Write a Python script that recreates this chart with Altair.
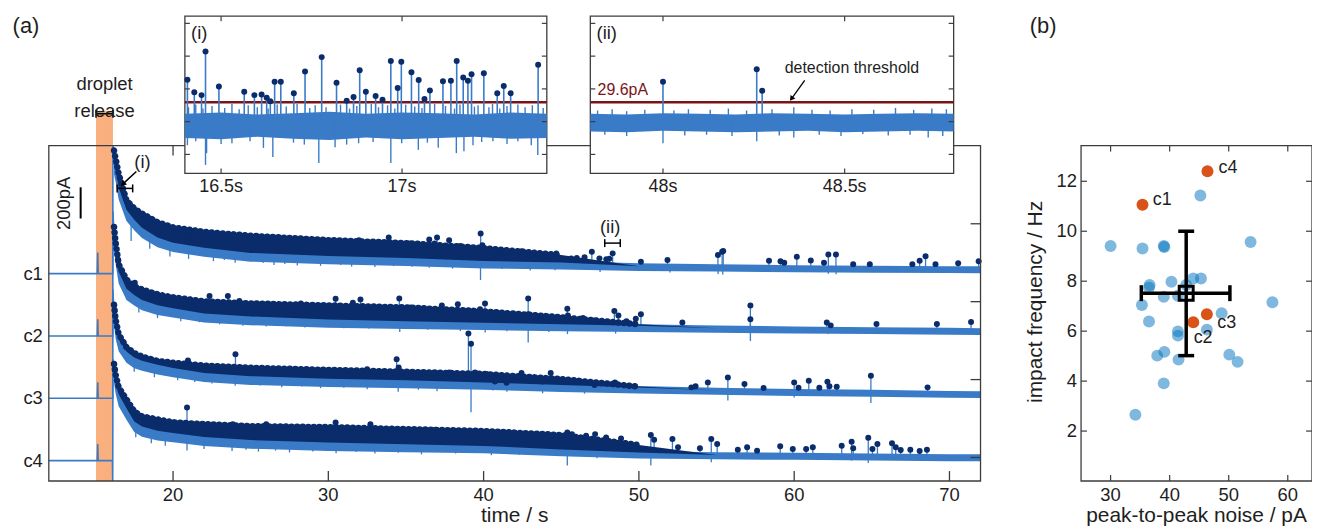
import altair as alt
import numpy as np
import pandas as pd

FONT = "Liberation Sans"
TRACE_BLUE = "#3A7BC8"
DOT_NAVY = "#0B2C6B"
RELEASE_ORANGE = "#F9B07E"
THRESH_RED = "#7A1417"
FRAME = "#3C3C3C"
INK = "#1E1E1E"
SCAT_BLUE = "#0072BD"
SCAT_ORANGE = "#D95319"

# ---------------- panel (a): main recordings (current in pA, per-trace offset) ----------------
MAIN_T_DOMAIN = [12, 72]
MAIN_V_DOMAIN = [-151, 2002]
TIME_GRID = [16.2, 16.3, 16.5, 17.0, 17.5, 18.0, 19.0, 20.0, 22.0, 25.0, 30.0, 35.0, 40.0, 45.0, 50.0, 55.0, 60.0, 65.0, 70.0, 72.0]
TRACES = ["c1", "c2", "c3", "c4"]
TRACE_OFFSET = [1180, 780, 380, -20]
LEVEL_C1 = [697, 652, 534, 393, 330, 279, 217, 185, 153, 121, 102, 89, 70, 61, 47, 42, 36, 32, 30, 29]
LEVEL_C2 = [640, 523, 394, 285, 247, 215, 183, 164, 132, 113, 94, 84, 75, 65, 56, 49, 43, 38, 34, 32]
LEVEL_C3 = [530, 443, 360, 283, 245, 226, 200, 181, 149, 130, 114, 104, 91, 75, 60, 50, 42, 36, 29, 27]
LEVEL_C4 = [560, 490, 407, 318, 235, 203, 177, 164, 139, 120, 104, 94, 84, 62, 43, 36, 32, 27, 22, 22]
DENSE_C1 = [790, 740, 640, 470, 418, 386, 330, 297, 268, 243, 215, 196, 164, 119, 47, 42, 36, 32, 30, 29]
DENSE_C2 = [700, 600, 460, 362, 318, 299, 267, 248, 222, 209, 196, 183, 158, 120, 75, 49, 43, 38, 34, 32]
DENSE_C3 = [600, 507, 411, 328, 290, 268, 240, 228, 210, 196, 182, 170, 156, 123, 75, 50, 42, 36, 29, 27]
DENSE_C4 = [620, 553, 470, 393, 316, 284, 265, 246, 234, 221, 215, 202, 190, 164, 100, 36, 32, 27, 22, 22]
NOISE_UP = [40, 40, 38, 35, 33, 31, 29, 27, 25, 24, 23, 22, 21, 20, 19, 18, 18, 18, 18, 18]
NOISE_DOWN = [60, 60, 58, 55, 52, 50, 48, 46, 45, 44, 42, 40, 37, 34, 30, 28, 27, 26, 26, 26]

RELEASE_START, RELEASE_END = 15.04, 16.13
PRE_SPIKE_T = 15.15
PRE_SPIKE_H = [135, 107, 102, 107]
JUMP_PEAK = [822, 800, 700, 650]
JUMP_LOW = [0, 0, 0, -131]

SPIKES_C1 = [(20.75, 236), (21.18, 232), (22.1, 215), (22.9, 215), (24.66, 242), (25.3, 232), (28.5, 215),
             (29.08, 215), (31.97, 215), (33.89, 232), (34.47, 183), (35.22, 194), (36.5, 219), (36.84, 194),
             (37.0, 232), (37.78, 215), (38.5, 178), (39.81, 257), (39.92, 183), (40.5, 150), (41.0, 135),
             (41.43, 140), (42.44, 144), (43.0, 120), (43.66, 119), (44.0, 115), (44.68, 130), (45.64, 98),
             (46.0, 100), (46.5, 105), (46.97, 140), (47.46, 98), (47.9, 92), (48.1, 95), (48.31, 130),
             (50.13, 76), (51.84, 87), (55.09, 119), (55.36, 140), (55.43, 146), (58.38, 82), (59.12, 79),
             (59.36, 70), (60.17, 108), (61.07, 85), (61.92, 70), (62.2, 123), (62.69, 123), (63.8, 61),
             (64.87, 61), (67.61, 61), (68.08, 82), (68.46, 112), (69.1, 61), (70.56, 66), (71.88, 79)]
SPIKES_C2 = [(17.54, 341), (22.35, 256), (23.53, 256), (24.27, 224), (28.23, 209), (30.47, 239), (31.58, 213),
             (32.07, 234), (34.57, 241), (35.28, 182), (36.03, 171), (37.31, 196), (38.34, 203), (39.77, 171),
             (40.09, 209), (40.95, 130), (41.6, 120), (42.2, 135), (42.87, 241), (42.87, 139), (43.7, 100),
             (45.0, 110), (45.39, 175), (45.43, 132), (46.4, 115), (47.1, 100), (47.8, 90), (48.42, 160),
             (48.68, 132), (49.2, 95), (49.8, 110), (50.13, 139), (52.8, 86), (57.18, 196), (57.18, 107),
             (62.1, 86), (62.35, 68), (65.3, 77), (69.19, 77), (71.39, 90)]
SPIKES_C3 = [(20.96, 242), (24.02, 283), (32.5, 187), (34.4, 251), (34.53, 198), (37.16, 162), (37.78, 166),
             (39.02, 416), (39.19, 350), (39.45, 166), (39.7, 156), (40.19, 156), (40.73, 108), (41.48, 100),
             (42.44, 162), (43.78, 108), (44.32, 162), (45.11, 108), (46.07, 108), (47.14, 85), (48.46, 102),
             (53.38, 70), (53.65, 77), (54.44, 102), (55.73, 134), (56.8, 91), (58.03, 66), (60.0, 102),
             (60.28, 68), (60.94, 112), (61.62, 68), (62.14, 106), (62.27, 77), (62.74, 74), (64.94, 144),
             (68.59, 70)]
SPIKES_C4 = [(20.9, 341), (23.85, 234), (26.0, 234), (27.48, 202), (30.47, 245), (32.71, 234), (34.64, 181),
             (36.41, 192), (36.88, 198), (37.35, 181), (39.87, 170), (40.88, 170), (41.37, 160), (43.14, 156),
             (45.39, 181), (45.69, 170), (46.6, 160), (47.18, 170), (47.89, 149), (48.85, 142), (50.77, 164),
             (50.98, 134), (52.16, 138), (52.52, 85), (53.93, 79), (54.66, 138), (55.04, 106), (56.37, 70),
             (56.97, 85), (57.61, 64), (59.1, 92), (59.91, 75), (60.77, 75), (61.2, 85), (63.06, 96),
             (63.7, 121), (63.8, 79), (64.77, 147), (65.04, 75), (65.36, 106), (66.3, 111), (66.54, 85),
             (66.86, 68), (67.48, 70), (68.08, 62), (68.55, 70)]
DIPS_C1 = [(17.3, 210), (18.5, 160), (19.8, 110), (21.0, 95), (22.6, 80), (23.3, 88), (24.0, 70), (25.8, 68),
           (26.5, 55), (27.2, 62), (28.0, 52), (29.5, 50), (30.8, 55), (31.5, 45), (33.0, 42), (34.2, 48),
           (35.4, 44), (36.5, 38), (38.0, 32), (39.8, -41), (41.2, 30), (43.0, 20), (44.6, 22), (47.5, 10),
           (52.0, 8), (55.1, -2), (55.4, -6), (62.2, 0), (62.7, -4)]
DIPS_C2 = [(17.8, 150), (19.0, 115), (20.5, 95), (21.7, 88), (23.0, 75), (24.5, 65), (26.0, 60), (27.3, 62),
           (28.5, 55), (29.8, 58), (31.0, 50), (32.6, 48), (34.6, 25), (36.4, 40), (38.5, 32), (40.1, 22),
           (41.5, 30), (42.87, -42), (44.2, 25), (45.4, 12), (48.5, 15), (57.18, -32), (62.2, 12)]
DIPS_C3 = [(17.5, 170), (18.8, 135), (20.3, 115), (21.4, 105), (22.5, 95), (24.0, 80), (25.6, 82), (27.0, 70),
           (28.3, 75), (29.5, 65), (31.0, 68), (32.5, 58), (34.5, 42), (35.8, 55), (37.0, 45), (39.19, -89),
           (40.6, 50), (41.5, 42), (43.8, 32), (46.5, 30), (55.73, -15), (60.0, 5), (64.94, -30)]
DIPS_C4 = [(17.6, 150), (18.6, 112), (19.5, 95), (20.9, 65), (22.0, 75), (23.8, 62), (24.7, 70), (25.5, 58),
           (26.6, 64), (27.5, 52), (29.0, 58), (30.5, 48), (31.8, 55), (33.0, 45), (34.5, 50), (36.0, 40),
           (38.2, 45), (40.5, 35), (42.3, 38), (45.39, -32), (47.3, 15), (50.77, -32), (54.66, -10), (63.7, 0),
           (64.77, -15)]
MAIN_X_TICKS = [20, 30, 40, 50, 60, 70]
MAIN_RIGHT_TICKS = [0, 500, 1000, 1500]
MAIN_X_TITLE = "time / s"

# annotations of panel (a) (in main-panel data units)
SCALE_BAR_T = 14.05
SCALE_BAR_TOP = 1734
SCALE_BAR_PA = 200
BRACKET_I = [16.4, 17.4, 1727]
BRACKET_II = [47.8, 48.8, 1376]
BRACKET_RELEASE = [RELEASE_START, RELEASE_END, 2206]
RELEASE_TOP = 2225
ARROW_I = [17.64, 1836, 16.81, 1759]

# ---------------- insets (i) and (ii) ----------------
INSET_V_DOMAIN = [-79, 161]
INSET_V_TICKS = [-50, 0, 50, 100, 150]
THRESHOLD = 29.6
INSET1_DOMAIN = [16.4, 17.4]
INSET1_TICKS = [16.5, 17.0]
I1_BAND_T = [16.4, 16.5, 16.6, 16.7, 16.8, 16.9, 17.0, 17.1, 17.2, 17.3, 17.4]
I1_BAND_LO = [-25, -27, -23, -26, -28, -24, -27, -25, -23, -26, -25]
I1_BAND_HI = [12, 14, 11, 13, 15, 12, 14, 13, 11, 14, 12]
I1_EVENTS = [(16.407, 64), (16.426, 45), (16.446, 40.5), (16.457, 107), (16.494, 53.5), (16.564, 45.5),
             (16.592, 40.5), (16.612, 41.5), (16.626, 36.5), (16.636, 31), (16.648, 61), (16.665, 61),
             (16.701, 43.5), (16.732, 76.5), (16.778, 98.5), (16.819, 59.5), (16.847, 32), (16.866, 37.5),
             (16.883, 78.5), (16.900, 45.5), (16.927, 39), (16.946, 33.5), (16.969, 92.5), (16.988, 51.5),
             (16.998, 91.5), (17.026, 75.5), (17.046, 63.5), (17.062, 34.5), (17.077, 47.5), (17.113, 61.5),
             (17.135, 62.5), (17.151, 92.5), (17.169, 67.5), (17.182, 62.5), (17.192, 72.5), (17.226, 74),
             (17.263, 43.5), (17.281, 54.5), (17.300, 43.5), (17.376, 87)]
I1_NOISE_UP = [(16.41, 22), (16.43, 26), (16.45, 20), (16.475, 24), (16.51, 21), (16.53, 27), (16.55, 19),
               (16.575, 25), (16.6, 22), (16.63, 20), (16.655, 26), (16.68, 23), (16.71, 27), (16.745, 21),
               (16.76, 25), (16.79, 22), (16.83, 26), (16.855, 20), (16.875, 24), (16.915, 27), (16.935, 22),
               (16.96, 25), (16.98, 20), (17.01, 26), (17.035, 23), (17.055, 21), (17.09, 27), (17.12, 24),
               (17.145, 20), (17.16, 26), (17.2, 23), (17.21, 25), (17.24, 22), (17.25, 27), (17.27, 20),
               (17.29, 24), (17.32, 26), (17.34, 22), (17.36, 25), (17.39, 21)]
I1_NOISE_DOWN = [(16.407, -36), (16.43, -30), (16.457, -66), (16.46, -48), (16.5, -34), (16.53, -33),
                 (16.58, -30), (16.617, -40), (16.643, -54), (16.7, -32), (16.73, -35), (16.77, -63),
                 (16.815, -39), (16.847, -35), (16.88, -33), (16.92, -31), (16.969, -63), (16.999, -33),
                 (17.045, -43), (17.07, -32), (17.1, -40), (17.15, -48), (17.171, -45), (17.196, -36),
                 (17.22, -31), (17.251, -30), (17.29, -34), (17.32, -30), (17.357, -36), (17.375, -51)]
INSET2_DOMAIN = [47.8, 48.8]
INSET2_TICKS = [48.0, 48.5]
I2_BAND_T = [47.8, 47.9, 48.0, 48.1, 48.2, 48.3, 48.4, 48.5, 48.6, 48.7, 48.8]
I2_BAND_LO = [-15, -16, -14, -15, -16, -15, -14, -16, -15, -14, -15]
I2_BAND_HI = [12, 11, 13, 12, 11, 13, 12, 11, 12, 13, 12]
I2_EVENTS = [(48.0, 61), (48.258, 80), (48.273, 47)]
I2_NOISE_UP = [(47.82, 17), (47.86, 19), (47.9, 16), (47.95, 18), (48.03, 17), (48.07, 19), (48.13, 18),
               (48.18, 20), (48.23, 17), (48.3, 19), (48.36, 22), (48.41, 18), (48.46, 17), (48.52, 19),
               (48.58, 18), (48.64, 21), (48.69, 18), (48.74, 20), (48.78, 19)]
I2_NOISE_DOWN = [(47.84, -20), (47.9, -22), (48.0, -33), (48.06, -21), (48.12, -20), (48.19, -22),
                 (48.258, -30), (48.32, -21), (48.36, -24), (48.43, -20), (48.49, -22), (48.55, -19),
                 (48.62, -21), (48.68, -20), (48.73, -24), (48.77, -22)]
ARROW_II = [48.39, 63, 48.355, 36]

# ---------------- panel (b) ----------------
B_X_DOMAIN = [25, 64.1]
B_Y_DOMAIN = [0, 13.43]
B_X_TICKS = [30, 40, 50, 60]
B_Y_TICKS = [2, 4, 6, 8, 10, 12]
B_X_TITLE = "peak-to-peak noise / pA"
B_Y_TITLE = "impact frequency / Hz"
B_Y_TITLE_AT = 7.17
NOISE_PP = [30.0, 35.4, 39.0, 39.1, 53.7, 45.2, 36.6, 36.5, 35.3, 39.0, 40.3, 41.4, 42.8, 44.0, 45.3, 36.5,
            41.4, 41.4, 46.3, 48.8, 57.4, 37.9, 39.1, 41.5, 50.1, 51.5, 39.0, 34.2]
IMPACT_FREQ = [9.41, 9.31, 9.41, 9.37, 9.57, 11.43, 7.85, 7.74, 7.05, 7.38, 7.98, 7.42, 7.85, 8.11, 8.11, 6.39,
               5.99, 5.82, 6.06, 6.72, 7.16, 5.02, 5.17, 4.86, 5.06, 4.77, 3.91, 2.65]
HL_NAMES = ["c1", "c2", "c3", "c4"]
HL_NOISE = [35.4, 44.0, 46.3, 46.4]
HL_FREQ = [11.06, 6.36, 6.68, 12.40]
HL_LABEL_X = [37.14, 44.06, 48.05, 48.27]
HL_LABEL_Y = [11.24, 5.72, 6.32, 12.54]
MEAN_NOISE, MEAN_FREQ = 42.8, 7.52
NOISE_ERR = [35.2, 50.2]
FREQ_ERR = [5.02, 10.0]

# ---------------- pixel layout (style) ----------------
W, H = 1269, 467
MAIN_X_RANGE = [0, 936]
MAIN_Y_RANGE = [467, 130]
INSET1_X_RANGE = [136.7, 500.3]
INSET2_X_RANGE = [544, 909]
INSET_Y_RANGE = [158, 0]
B_X_RANGE = [1037, 1269]
B_Y_RANGE = [467, 130]
TICK_FS, TITLE_FS = 18.5, 21


def sc(domain, rng):
    return alt.Scale(domain=domain, range=rng, nice=False, zero=False)


MX = sc(MAIN_T_DOMAIN, MAIN_X_RANGE)
MY = sc(MAIN_V_DOMAIN, MAIN_Y_RANGE)
IX1 = sc(INSET1_DOMAIN, INSET1_X_RANGE)
IX2 = sc(INSET2_DOMAIN, INSET2_X_RANGE)
IY = sc(INSET_V_DOMAIN, INSET_Y_RANGE)
BX = sc(B_X_DOMAIN, B_X_RANGE)
BY = sc(B_Y_DOMAIN, B_Y_RANGE)


def X(f, s):
    return alt.X(f, type="quantitative", scale=s, axis=None)


def Y(f, s):
    return alt.Y(f, type="quantitative", scale=s, axis=None)


def px_to_units(px, domain, rng):
    return px * (domain[1] - domain[0]) / abs(rng[1] - rng[0])


def box_ticks(xdom, ydom, xticks, yticks, xlen, ylen, sides):
    rows = []
    for v in xticks:
        if "bottom" in sides:
            rows.append(dict(x0=v, x1=v, y0=ydom[0], y1=ydom[0] + ylen))
        if "top" in sides:
            rows.append(dict(x0=v, x1=v, y0=ydom[1], y1=ydom[1] - ylen))
    for v in yticks:
        if "left" in sides:
            rows.append(dict(x0=xdom[0], x1=xdom[0] + xlen, y0=v, y1=v))
        if "right" in sides:
            rows.append(dict(x0=xdom[1], x1=xdom[1] - xlen, y0=v, y1=v))
    return pd.DataFrame(rows)


def rule_layer(df, xs, ys, color, width):
    return alt.Chart(df).mark_rule(color=color, strokeWidth=width).encode(
        x=X("x0", xs), x2="x1", y=Y("y0", ys), y2="y1")


def text_layer(df, xs, ys, size, **kw):
    props = dict(font=FONT, fontSize=size, color=INK, align="center", baseline="middle")
    props.update(kw)
    return alt.Chart(df).mark_text(**props).encode(x=X("x", xs), y=Y("y", ys), text="label:N")


def fmt(v):
    return f"{v:g}"


# ================= panel (a) main =================
LEVELS = [LEVEL_C1, LEVEL_C2, LEVEL_C3, LEVEL_C4]
DENSES = [DENSE_C1, DENSE_C2, DENSE_C3, DENSE_C4]
SPIKES = [SPIKES_C1, SPIKES_C2, SPIKES_C3, SPIKES_C4]
DIPS = [DIPS_C1, DIPS_C2, DIPS_C3, DIPS_C4]

band_rows, pre_rows, spike_rows, dip_rows, edge_rows = [], [], [], [], []
for k, name in enumerate(TRACES):
    off, lev, dense = TRACE_OFFSET[k], LEVELS[k], DENSES[k]
    for t, l, d, up, dn in zip(TIME_GRID, lev, dense, NOISE_UP, NOISE_DOWN):
        top = off + max(d, l)
        mid = min(off + l + 0.5 * up, top)
        band_rows.append(dict(trace=name, t=t, lo=off + l - dn, hi=off + l + up, mid=mid, top=top))
        if d - l > 10:
            edge_rows.append(dict(trace=name, t=t, top=off + d))
    seq = [(MAIN_T_DOMAIN[0], 0), (PRE_SPIKE_T - 0.03, 0), (PRE_SPIKE_T, PRE_SPIKE_H[k]), (PRE_SPIKE_T + 0.03, 0),
           (RELEASE_END - 0.03, 0), (RELEASE_END - 0.015, JUMP_LOW[k]), (RELEASE_END, JUMP_PEAK[k]),
           (TIME_GRID[0], lev[0])]
    for i, (t, v) in enumerate(seq):
        pre_rows.append(dict(trace=name, i=i, t=t, v=off + v))
    for t, h in SPIKES[k]:
        spike_rows.append(dict(trace=name, t=t, top=off + h, bot=off + float(np.interp(t, TIME_GRID, lev))))
    for t, d in DIPS[k]:
        dip_rows.append(dict(trace=name, t=t, bot=off + d, top=off + float(np.interp(t, TIME_GRID, lev))))

band_df = pd.DataFrame(band_rows)
edge_df = pd.DataFrame(edge_rows)
pre_df = pd.DataFrame(pre_rows)
spike_df = pd.DataFrame(spike_rows)
dip_df = pd.DataFrame(dip_rows)

release_df = pd.DataFrame({"x0": [RELEASE_START], "x1": [RELEASE_END],
                           "y0": [MAIN_V_DOMAIN[0]], "y1": [RELEASE_TOP]})
main_frame_df = pd.DataFrame({"x0": [MAIN_T_DOMAIN[0]], "x1": [MAIN_T_DOMAIN[1]],
                              "y0": [MAIN_V_DOMAIN[0]], "y1": [MAIN_V_DOMAIN[1]]})
main_tick_df = box_ticks(MAIN_T_DOMAIN, MAIN_V_DOMAIN, MAIN_X_TICKS, MAIN_RIGHT_TICKS,
                         px_to_units(10, MAIN_T_DOMAIN, MAIN_X_RANGE), px_to_units(10, MAIN_V_DOMAIN, MAIN_Y_RANGE),
                         ["bottom", "top", "right"])

cap_v = px_to_units(4, MAIN_V_DOMAIN, MAIN_Y_RANGE)
ann_rows = []
for t0, t1, v in [BRACKET_I, BRACKET_II, BRACKET_RELEASE]:
    ann_rows += [dict(x0=t0, x1=t1, y0=v, y1=v), dict(x0=t0, x1=t0, y0=v - cap_v, y1=v + cap_v),
                 dict(x0=t1, x1=t1, y0=v - cap_v, y1=v + cap_v)]
ann_rows.append(dict(x0=ARROW_I[0], x1=ARROW_I[2], y0=ARROW_I[1], y1=ARROW_I[3]))
ann_df = pd.DataFrame(ann_rows)
scalebar_df = pd.DataFrame({"x0": [SCALE_BAR_T], "x1": [SCALE_BAR_T], "y0": [SCALE_BAR_TOP],
                            "y1": [SCALE_BAR_TOP - SCALE_BAR_PA]})
arrow_head_i = pd.DataFrame({"t": [ARROW_I[2]], "v": [ARROW_I[3]]})

main_text_df = pd.DataFrame([
    dict(x=15.59, y=2398, label="droplet\nrelease"),
    dict(x=18.03, y=1895, label="(i)"),
    dict(x=48.15, y=1480, label="(ii)"),
])
scalebar_text_df = pd.DataFrame([dict(x=12.96, y=1631, label=f"{SCALE_BAR_PA}pA")])
panel_a_label = pd.DataFrame([dict(x=10.53, y=2768, label="(a)")])
main_xlab = pd.DataFrame({"x": MAIN_X_TICKS, "y": [MAIN_V_DOMAIN[0]] * len(MAIN_X_TICKS),
                          "label": [fmt(v) for v in MAIN_X_TICKS]})
main_xtitle = pd.DataFrame([dict(x=sum(MAIN_T_DOMAIN) / 2, y=MAIN_V_DOMAIN[0], label=MAIN_X_TITLE)])
main_ylab = pd.DataFrame({"x": [MAIN_T_DOMAIN[0]] * len(TRACES), "y": TRACE_OFFSET, "label": TRACES})

main_layers = [
    alt.Chart(release_df).mark_rect(color=RELEASE_ORANGE).encode(
        x=X("x0", MX), x2="x1", y=Y("y0", MY), y2="y1"),
    alt.Chart(band_df).mark_area(color=TRACE_BLUE, opacity=1).encode(
        x=X("t", MX), y=Y("lo", MY), y2="hi", detail="trace:N"),
    alt.Chart(dip_df).mark_rule(color=TRACE_BLUE, strokeWidth=1.3).encode(
        x=X("t", MX), y=Y("bot", MY), y2="top"),
    alt.Chart(spike_df).mark_rule(color=TRACE_BLUE, strokeWidth=1.3).encode(
        x=X("t", MX), y=Y("bot", MY), y2="top"),
    alt.Chart(pre_df).mark_line(color=TRACE_BLUE, strokeWidth=1.6).encode(
        x=X("t", MX), y=Y("v", MY), detail="trace:N", order="i:Q"),
    alt.Chart(band_df).mark_area(color=DOT_NAVY, opacity=1).encode(
        x=X("t", MX), y=Y("mid", MY), y2="top", detail="trace:N"),
    alt.Chart(edge_df).mark_line(color=DOT_NAVY, strokeWidth=6.5, strokeCap="round",
                                 strokeDash=[0.1, 5.5]).encode(
        x=X("t", MX), y=Y("top", MY), detail="trace:N"),
    alt.Chart(spike_df).mark_circle(color=DOT_NAVY, size=36, opacity=1).encode(
        x=X("t", MX), y=Y("top", MY)),
    alt.Chart(main_frame_df).mark_rect(fillOpacity=0, stroke=FRAME, strokeWidth=1.3).encode(
        x=X("x0", MX), x2="x1", y=Y("y0", MY), y2="y1"),
    rule_layer(main_tick_df, MX, MY, FRAME, 1.3),
    rule_layer(ann_df, MX, MY, "black", 1.5),
    rule_layer(scalebar_df, MX, MY, "black", 2),
    alt.Chart(arrow_head_i).mark_point(shape="triangle", filled=True, size=40, angle=227, color="black",
                                       opacity=1).encode(x=X("t", MX), y=Y("v", MY)),
    text_layer(main_text_df, MX, MY, 18.5, lineBreak="\n", lineHeight=27),
    text_layer(scalebar_text_df, MX, MY, 18.5, angle=270),
    text_layer(panel_a_label, MX, MY, 22),
    text_layer(main_xlab, MX, MY, TICK_FS, baseline="top", dy=5),
    text_layer(main_xtitle, MX, MY, TITLE_FS, baseline="alphabetic", dy=41),
    text_layer(main_ylab, MX, MY, TICK_FS, align="right", dx=-6),
]
main = alt.layer(*main_layers)


# ================= insets =================
def make_inset(xs, dom, ticks, band_t, band_lo, band_hi, events, n_up, n_down, tag, extra):
    frame = pd.DataFrame({"x0": [dom[0]], "x1": [dom[1]], "y0": [INSET_V_DOMAIN[0]], "y1": [INSET_V_DOMAIN[1]]})
    band = pd.DataFrame({"t": band_t, "lo": band_lo, "hi": band_hi})
    noise = pd.DataFrame([dict(t=t, a=0, b=h) for t, h in n_up] + [dict(t=t, a=0, b=d) for t, d in n_down])
    ev = pd.DataFrame([dict(t=t, a=0, b=h) for t, h in events])
    thr = pd.DataFrame({"x0": [dom[0]], "x1": [dom[1]], "y0": [THRESHOLD], "y1": [THRESHOLD]})
    tdf = box_ticks(dom, INSET_V_DOMAIN, ticks, INSET_V_TICKS, px_to_units(5, dom, [0, 363.6]),
                    px_to_units(5, INSET_V_DOMAIN, INSET_Y_RANGE), ["bottom", "top", "left", "right"])
    tag_df = pd.DataFrame([dict(x=dom[0] + 0.017, y=135, label=tag)])
    lab_df = pd.DataFrame({"x": ticks, "y": [INSET_V_DOMAIN[0]] * len(ticks), "label": [fmt(v) + "s" for v in ticks]})
    layers = [
        alt.Chart(frame).mark_rect(fill="white", stroke=FRAME, strokeWidth=1.3).encode(
            x=X("x0", xs), x2="x1", y=Y("y0", IY), y2="y1"),
        alt.Chart(band).mark_area(color=TRACE_BLUE, opacity=1).encode(x=X("t", xs), y=Y("lo", IY), y2="hi"),
        alt.Chart(noise).mark_rule(color=TRACE_BLUE, strokeWidth=1.4).encode(
            x=X("t", xs), y=Y("a", IY), y2="b"),
        rule_layer(thr, xs, IY, THRESH_RED, 2.6),
        alt.Chart(ev).mark_rule(color=TRACE_BLUE, strokeWidth=1.6).encode(x=X("t", xs), y=Y("a", IY), y2="b"),
        alt.Chart(ev).mark_circle(color=DOT_NAVY, size=36, opacity=1).encode(x=X("t", xs), y=Y("b", IY)),
        rule_layer(tdf, xs, IY, FRAME, 1.2),
        text_layer(tag_df, xs, IY, 18.5, align="left"),
        text_layer(lab_df, xs, IY, 18, baseline="top", dy=5),
    ]
    return alt.layer(*(layers + extra(xs)))


def inset1_extra(xs):
    return []


def inset2_extra(xs):
    thr_txt = pd.DataFrame([dict(x=INSET2_DOMAIN[0] + 0.02, y=48.6, label=f"{THRESHOLD}pA")])
    det_txt = pd.DataFrame([dict(x=48.52, y=82, label="detection threshold")])
    arr = pd.DataFrame({"x0": [ARROW_II[0]], "x1": [ARROW_II[2]], "y0": [ARROW_II[1]], "y1": [ARROW_II[3]]})
    head = pd.DataFrame({"t": [ARROW_II[2]], "v": [ARROW_II[3]]})
    return [
        text_layer(thr_txt, xs, IY, 16, align="left", color=THRESH_RED),
        text_layer(det_txt, xs, IY, 16),
        rule_layer(arr, xs, IY, "black", 1.3),
        alt.Chart(head).mark_point(shape="triangle", filled=True, size=36, angle=216, color="black",
                                   opacity=1).encode(x=X("t", xs), y=Y("v", IY)),
    ]


inset1 = make_inset(IX1, INSET1_DOMAIN, INSET1_TICKS, I1_BAND_T, I1_BAND_LO, I1_BAND_HI, I1_EVENTS,
                    I1_NOISE_UP, I1_NOISE_DOWN, "(i)", inset1_extra)
inset2 = make_inset(IX2, INSET2_DOMAIN, INSET2_TICKS, I2_BAND_T, I2_BAND_LO, I2_BAND_HI, I2_EVENTS,
                    I2_NOISE_UP, I2_NOISE_DOWN, "(ii)", inset2_extra)

# ================= panel (b) =================
b_frame = pd.DataFrame({"x0": [B_X_DOMAIN[0]], "x1": [B_X_DOMAIN[1]], "y0": [B_Y_DOMAIN[0]], "y1": [B_Y_DOMAIN[1]]})
b_ticks = box_ticks(B_X_DOMAIN, B_Y_DOMAIN, B_X_TICKS, B_Y_TICKS, px_to_units(6, B_X_DOMAIN, B_X_RANGE),
                    px_to_units(6, B_Y_DOMAIN, B_Y_RANGE), ["bottom", "top", "left", "right"])
pts = pd.DataFrame({"noise": NOISE_PP, "freq": IMPACT_FREQ})
hl = pd.DataFrame({"noise": HL_NOISE, "freq": HL_FREQ, "label": HL_NAMES, "x": HL_LABEL_X, "y": HL_LABEL_Y})
cap_y = px_to_units(8, B_Y_DOMAIN, B_Y_RANGE)
cap_x = px_to_units(8, B_X_DOMAIN, B_X_RANGE)
err = pd.DataFrame([
    dict(x0=NOISE_ERR[0], x1=NOISE_ERR[1], y0=MEAN_FREQ, y1=MEAN_FREQ),
    dict(x0=MEAN_NOISE, x1=MEAN_NOISE, y0=FREQ_ERR[0], y1=FREQ_ERR[1]),
    dict(x0=NOISE_ERR[0], x1=NOISE_ERR[0], y0=MEAN_FREQ - cap_y, y1=MEAN_FREQ + cap_y),
    dict(x0=NOISE_ERR[1], x1=NOISE_ERR[1], y0=MEAN_FREQ - cap_y, y1=MEAN_FREQ + cap_y),
    dict(x0=MEAN_NOISE - cap_x, x1=MEAN_NOISE + cap_x, y0=FREQ_ERR[0], y1=FREQ_ERR[0]),
    dict(x0=MEAN_NOISE - cap_x, x1=MEAN_NOISE + cap_x, y0=FREQ_ERR[1], y1=FREQ_ERR[1]),
])
mean_df = pd.DataFrame({"noise": [MEAN_NOISE], "freq": [MEAN_FREQ]})
b_label = pd.DataFrame([dict(x=18.59, y=18.2, label="(b)")])
b_xlab = pd.DataFrame({"x": B_X_TICKS, "y": [B_Y_DOMAIN[0]] * len(B_X_TICKS), "label": [fmt(v) for v in B_X_TICKS]})
b_ylab = pd.DataFrame({"x": [B_X_DOMAIN[0]] * len(B_Y_TICKS), "y": B_Y_TICKS, "label": [fmt(v) for v in B_Y_TICKS]})
b_xtitle = pd.DataFrame([dict(x=sum(B_X_DOMAIN) / 2, y=B_Y_DOMAIN[0], label=B_X_TITLE)])
b_ytitle = pd.DataFrame([dict(x=B_X_DOMAIN[0], y=B_Y_TITLE_AT, label=B_Y_TITLE)])

panel_b = alt.layer(
    alt.Chart(b_frame).mark_rect(fillOpacity=0, stroke=FRAME, strokeWidth=1.3).encode(
        x=X("x0", BX), x2="x1", y=Y("y0", BY), y2="y1"),
    rule_layer(b_ticks, BX, BY, FRAME, 1.2),
    alt.Chart(pts).mark_circle(color=SCAT_BLUE, size=144, opacity=0.5).encode(
        x=X("noise", BX), y=Y("freq", BY)),
    alt.Chart(hl).mark_circle(color=SCAT_ORANGE, size=144, opacity=1).encode(
        x=X("noise", BX), y=Y("freq", BY)),
    rule_layer(err, BX, BY, "black", 3.5),
    alt.Chart(mean_df).mark_square(size=196, filled=False, color="black", strokeWidth=3, opacity=1).encode(
        x=X("noise", BX), y=Y("freq", BY)),
    text_layer(hl, BX, BY, 18, align="left"),
    text_layer(b_label, BX, BY, 22),
    text_layer(b_xlab, BX, BY, TICK_FS, baseline="top", dy=5),
    text_layer(b_ylab, BX, BY, TICK_FS, align="right", dx=-4),
    text_layer(b_xtitle, BX, BY, TITLE_FS, baseline="alphabetic", dy=41),
    text_layer(b_ytitle, BX, BY, TITLE_FS, angle=270, dy=-45),
)

chart = alt.layer(main, inset1, inset2, panel_b).resolve_scale(
    x="independent", y="independent"
).properties(
    width=W, height=H,
    autosize=alt.AutoSizeParams(type="none"),
    padding={"left": 41, "top": 7, "right": 0, "bottom": 44},
).configure_view(stroke="transparent")

chart.save("out.html", embed_options={"renderer": "svg", "actions": False})
